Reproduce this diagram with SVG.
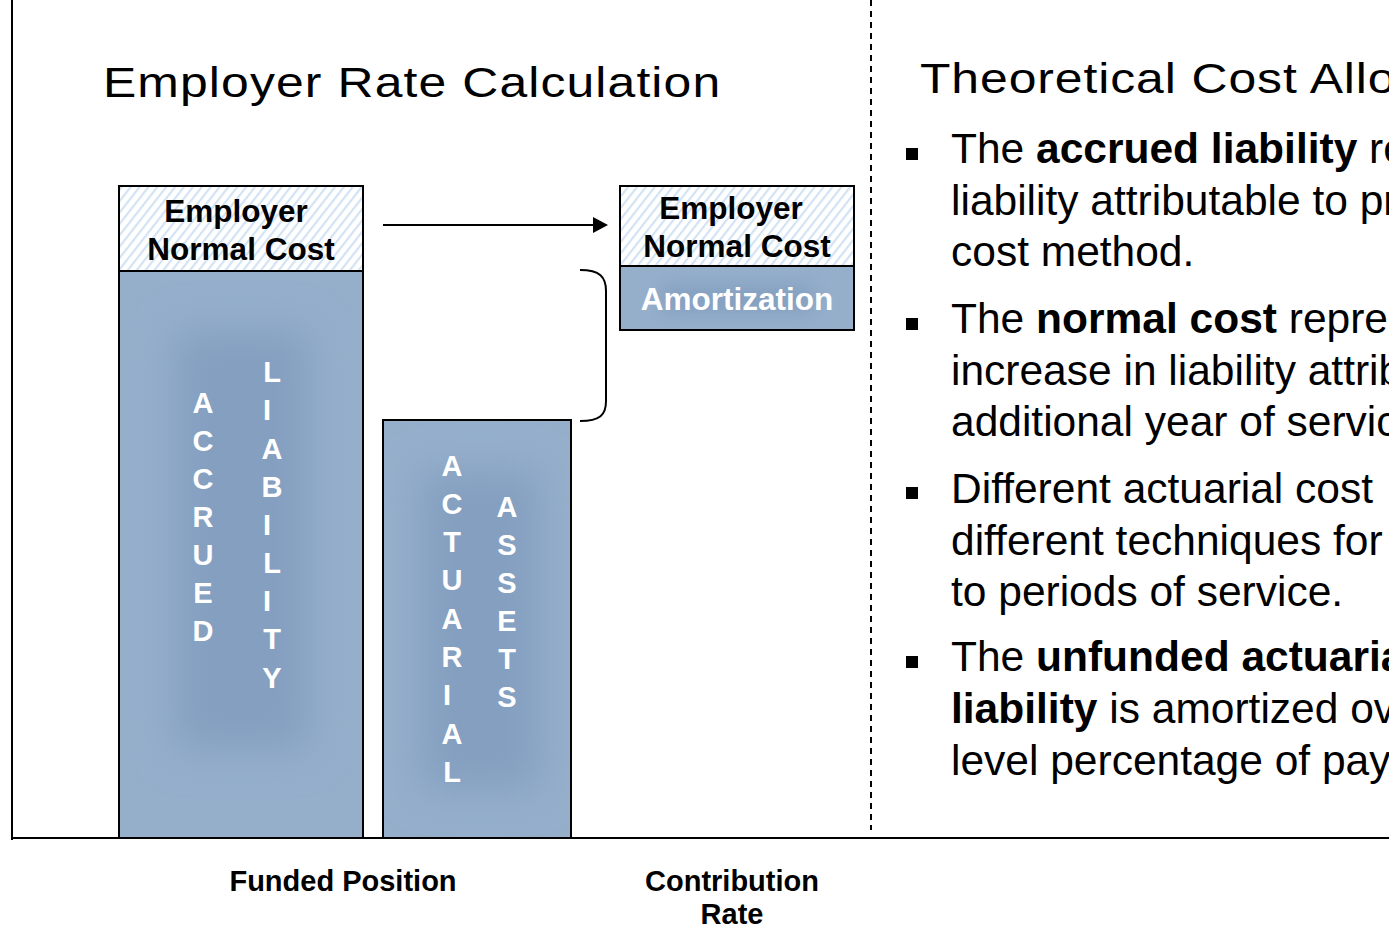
<svg xmlns="http://www.w3.org/2000/svg" width="1389" height="927" viewBox="0 0 1389 927">
  <style>
    .title { font-family: "Liberation Sans", Arial, sans-serif; font-size: 43px; fill: #000; }
    .box-label { font-family: "Liberation Sans", Arial, sans-serif; font-size: 31.5px; font-weight: bold; fill: #000; text-anchor: middle; }
    .amort { font-family: "Liberation Sans", Arial, sans-serif; font-size: 31.5px; font-weight: bold; fill: #fff; text-anchor: middle; }
    .bar-letter { font-family: "Liberation Sans", Arial, sans-serif; font-size: 29px; font-weight: bold; fill: #fff; text-anchor: middle; }
    .axis-label { font-family: "Liberation Sans", Arial, sans-serif; font-size: 29px; font-weight: bold; fill: #000; text-anchor: middle; }
    .bullet-text { font-family: "Liberation Sans", Arial, sans-serif; font-size: 42.5px; fill: #000; }
    .bullet-text .b { font-weight: bold; }
    .frame { fill: none; stroke: #000; stroke-width: 2; }
    .bar { fill: #95afcb; stroke: #000; stroke-width: 2; }
    .hatched { fill: url(#hatch); stroke: #000; stroke-width: 2; }
    .connector { fill: none; stroke: #000; stroke-width: 2; }
  </style>
  <defs>
    <pattern id="hatch" width="7" height="7" patternUnits="userSpaceOnUse" patternTransform="rotate(38)">
      <rect width="7" height="7" fill="#ffffff"/>
      <rect x="0" y="0" width="2.2" height="7" fill="#d3e3f3"/>
    </pattern>
    <filter id="soft" x="-30%" y="-30%" width="160%" height="160%">
      <feGaussianBlur stdDeviation="20"/>
    </filter>
    <filter id="softSmall" x="-30%" y="-50%" width="160%" height="200%">
      <feGaussianBlur stdDeviation="10"/>
    </filter>
    <clipPath id="clipLiab"><rect x="119" y="271" width="244" height="567"/></clipPath>
    <clipPath id="clipAssets"><rect x="383" y="420" width="188" height="418"/></clipPath>
    <clipPath id="clipAmort"><rect x="620" y="266" width="234" height="64"/></clipPath>
  </defs>

  <rect width="1389" height="927" fill="#ffffff"/>

  <!-- chart frame: left axis, base line, divider -->
  <g id="frame">
    <line x1="12" y1="0" x2="12" y2="840" class="frame"/>
    <line x1="11" y1="838" x2="1389" y2="838" class="frame"/>
    <line x1="871" y1="0" x2="871" y2="830" stroke="#000" stroke-width="2" stroke-dasharray="6,5"/>
  </g>

  <!-- headings (wide, lightly spaced) -->
  <text class="title" transform="translate(103,97) scale(1.16,1)" x="0" y="0" textLength="532" lengthAdjust="spacing">Employer Rate Calculation</text>
  <text class="title" transform="translate(920,93) scale(1.16,1)" x="0" y="0" textLength="410" lengthAdjust="spacing">Theoretical Cost Allo</text>

  <!-- funded position: normal cost on top of accrued liability -->
  <g id="node-normal-cost-left">
    <rect x="119" y="186" width="244" height="85" class="hatched"/>
    <text class="box-label" x="236" y="222">Employer</text>
    <text class="box-label" x="241" y="260">Normal Cost</text>
  </g>

  <g id="node-accrued-liability">
    <rect x="119" y="271" width="244" height="567" class="bar"/>
    <g clip-path="url(#clipLiab)">
      <rect x="175" y="330" width="135" height="420" fill="#849fc0" filter="url(#soft)"/>
    </g>
    <rect x="119" y="271" width="244" height="567" class="frame"/>
    <g class="bar-letter">
      <text x="203" y="413">A</text>
      <text x="203" y="451">C</text>
      <text x="203" y="489">C</text>
      <text x="203" y="527">R</text>
      <text x="203" y="565">U</text>
      <text x="203" y="603">E</text>
      <text x="203" y="641">D</text>
      <text x="272" y="382">L</text>
      <text x="267" y="420">I</text>
      <text x="272" y="459">A</text>
      <text x="272" y="497">B</text>
      <text x="267" y="535">I</text>
      <text x="272" y="573">L</text>
      <text x="267" y="611">I</text>
      <text x="272" y="649">T</text>
      <text x="272" y="688">Y</text>
    </g>
  </g>

  <g id="node-actuarial-assets">
    <rect x="383" y="420" width="188" height="418" class="bar"/>
    <g clip-path="url(#clipAssets)">
      <rect x="420" y="470" width="120" height="320" fill="#849fc0" filter="url(#soft)"/>
    </g>
    <rect x="383" y="420" width="188" height="418" class="frame"/>
    <g class="bar-letter">
      <text x="452" y="476">A</text>
      <text x="452" y="514">C</text>
      <text x="452" y="552">T</text>
      <text x="452" y="590">U</text>
      <text x="452" y="629">A</text>
      <text x="452" y="667">R</text>
      <text x="447" y="705">I</text>
      <text x="452" y="744">A</text>
      <text x="452" y="782">L</text>
      <text x="507" y="517">A</text>
      <text x="507" y="555">S</text>
      <text x="507" y="593">S</text>
      <text x="507" y="631">E</text>
      <text x="507" y="669">T</text>
      <text x="507" y="707">S</text>
    </g>
  </g>

  <!-- contribution rate: normal cost plus amortization -->
  <g id="node-normal-cost-right">
    <rect x="620" y="186" width="234" height="80" class="hatched"/>
    <text class="box-label" x="731" y="219">Employer</text>
    <text class="box-label" x="737" y="257">Normal Cost</text>
  </g>

  <g id="node-amortization">
    <rect x="620" y="266" width="234" height="64" class="bar"/>
    <g clip-path="url(#clipAmort)">
      <rect x="660" y="285" width="155" height="28" fill="#849fc0" filter="url(#softSmall)"/>
    </g>
    <rect x="620" y="266" width="234" height="64" class="frame"/>
    <text class="amort" x="737" y="310">Amortization</text>
  </g>

  <!-- connectors -->
  <g id="connectors">
    <line x1="383" y1="225" x2="595" y2="225" class="connector"/>
    <polygon points="593,217 608,225 593,233" fill="#000"/>
    <path d="M580,270 C600,270 606,277 606,291 L606,401 C606,415 600,421 580,421" class="connector"/>
  </g>

  <!-- axis labels -->
  <text class="axis-label" x="343" y="891">Funded Position</text>
  <text class="axis-label" x="732" y="891">Contribution</text>
  <text class="axis-label" x="732" y="924">Rate</text>

  <!-- bullet list -->
  <g id="bullets">
    <rect x="906" y="148" width="12" height="12" fill="#000"/>
    <rect x="906" y="318" width="12" height="12" fill="#000"/>
    <rect x="906" y="487" width="12" height="12" fill="#000"/>
    <rect x="906" y="656" width="12" height="12" fill="#000"/>

    <text class="bullet-text" x="951" y="163">The <tspan class="b">accrued liability</tspan> re</text>
    <text class="bullet-text" x="951" y="215">liability attributable to pr</text>
    <text class="bullet-text" x="951" y="266">cost method.</text>

    <text class="bullet-text" x="951" y="333">The <tspan class="b">normal cost</tspan> repre</text>
    <text class="bullet-text" x="951" y="385">increase in liability attrib</text>
    <text class="bullet-text" x="951" y="436">additional year of servic</text>

    <text class="bullet-text" x="951" y="503">Different actuarial cost</text>
    <text class="bullet-text" x="951" y="555">different techniques for</text>
    <text class="bullet-text" x="951" y="606">to periods of service.</text>

    <text class="bullet-text" x="951" y="671">The <tspan class="b">unfunded actuaria</tspan></text>
    <text class="bullet-text" x="951" y="723"><tspan class="b">liability</tspan> is amortized ov</text>
    <text class="bullet-text" x="951" y="775">level percentage of pay</text>
  </g>
</svg>
